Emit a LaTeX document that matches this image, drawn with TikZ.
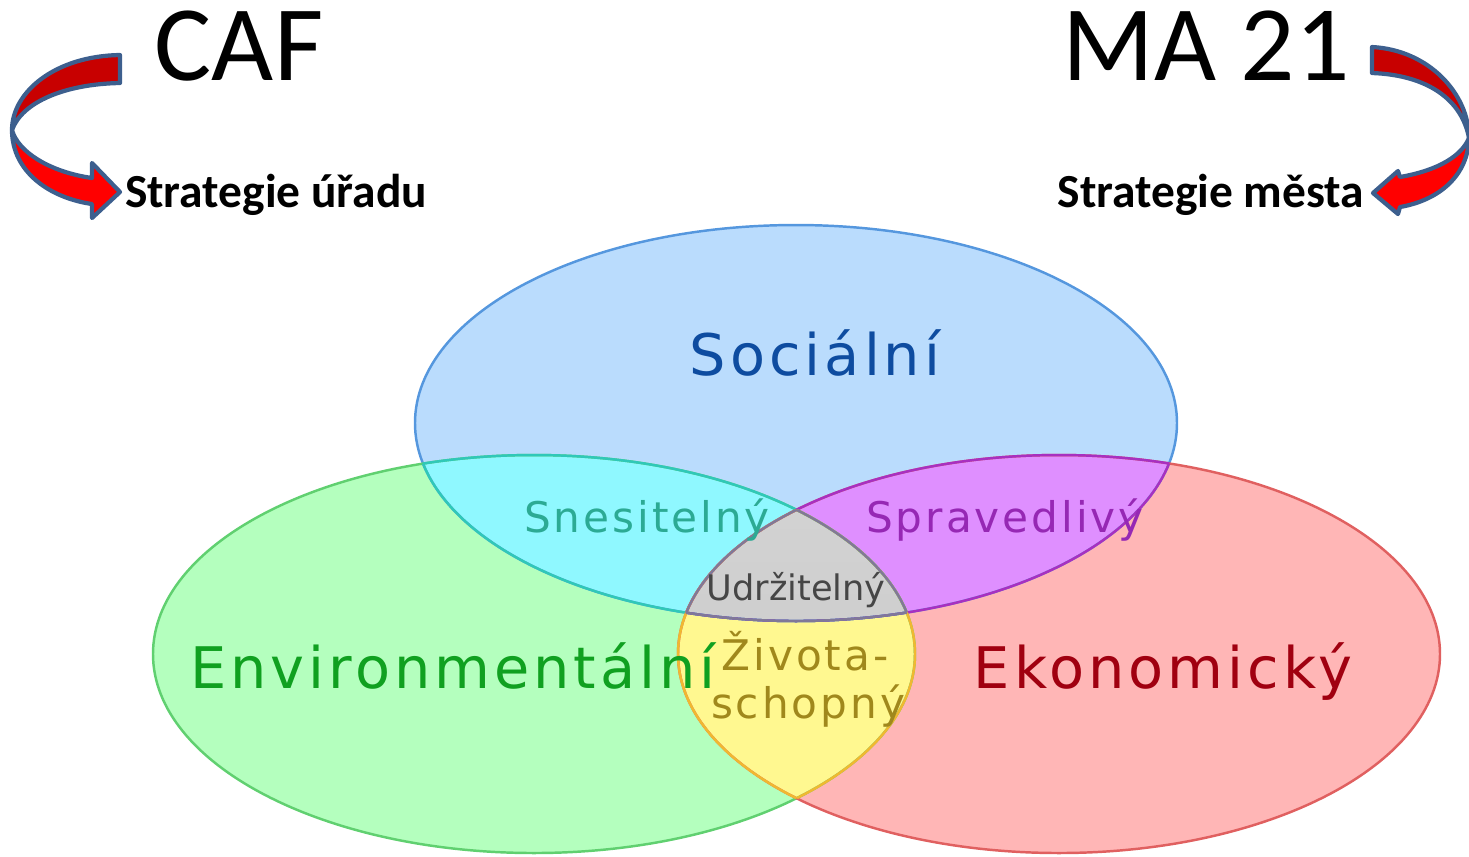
\documentclass[tikz,border=0pt]{standalone}
\usepackage{fontspec}
\usepackage{tikz}
\usepackage{xcolor}
\setmainfont{Carlito}
\newfontfamily\vennfont[LetterSpace=7]{DejaVu Sans}
\newfontfamily\vennfontn{DejaVu Sans}

\definecolor{soc-fill}{HTML}{BADCFD}
\definecolor{soc-line}{HTML}{5597DE}
\definecolor{env-fill}{HTML}{B4FFBE}
\definecolor{env-line}{HTML}{60D070}
\definecolor{eko-fill}{HTML}{FFB6B6}
\definecolor{eko-line}{HTML}{E06060}
\definecolor{snes-fill}{HTML}{8FF8FF}
\definecolor{snes-line}{HTML}{30C8B8}
\definecolor{spr-fill}{HTML}{DF8FFF}
\definecolor{spr-line}{HTML}{A830C0}
\definecolor{ziv-fill}{HTML}{FFF890}
\definecolor{ziv-line}{HTML}{F0B830}
\definecolor{udr-line}{HTML}{807898}
\definecolor{arrow-line}{HTML}{3D5F8E}
\definecolor{arrow-dark}{HTML}{C80000}
\definecolor{arrow-red}{HTML}{FF0000}

\tikzset{
    title-text/.style = {font=\fontsize{30.5}{36}\selectfont, anchor=base},
    strat-text/.style = {font=\bfseries\fontsize{13.5}{16}\selectfont, anchor=base},
    venn-big/.style = {font=\vennfont\fontsize{16.3}{19}\selectfont, anchor=base},
    venn-small/.style = {font=\vennfont\fontsize{12}{14}\selectfont, anchor=base},
    curved-arrow/.style = {draw=arrow-line, line width=1.2pt, line join=round},
    venn-edge/.style = {line width=0.7pt},
}

\def\socpath{(796,423) ellipse [x radius=381, y radius=198]}
\def\envpath{(534,654) ellipse [x radius=381, y radius=199]}
\def\ekopath{(1059,654) ellipse [x radius=381, y radius=199]}

\begin{document}
\begin{tikzpicture}[x=0.01cm, y=-0.01cm]
\useasboundingbox (0,0) rectangle (1469,856);

% the three circles
\fill[soc-fill] \socpath;
\fill[env-fill] \envpath;
\fill[eko-fill] \ekopath;
\begin{scope} \clip \socpath; \fill[snes-fill] \envpath; \fill[spr-fill] \ekopath; \end{scope}
\begin{scope} \clip \envpath; \fill[ziv-fill] \ekopath; \end{scope}
\begin{scope} \clip \socpath; \clip \envpath; \clip \ekopath;
    \shade[top color=gray!35, middle color=gray!4, bottom color=gray!38] (670,500) rectangle (925,625);
\end{scope}

\draw[venn-edge, soc-line] \socpath;
\draw[venn-edge, env-line] \envpath;
\draw[venn-edge, eko-line] \ekopath;
\begin{scope} \clip \socpath; \draw[venn-edge, snes-line] \envpath; \draw[venn-edge, spr-line] \ekopath; \end{scope}
\begin{scope} \clip \envpath; \draw[venn-edge, snes-line] \socpath; \draw[venn-edge, ziv-line] \ekopath; \end{scope}
\begin{scope} \clip \ekopath; \draw[venn-edge, spr-line] \socpath; \draw[venn-edge, ziv-line] \envpath; \end{scope}
\begin{scope} \clip \socpath; \clip \envpath; \draw[venn-edge, udr-line] \ekopath; \end{scope}
\begin{scope} \clip \socpath; \clip \ekopath; \draw[venn-edge, udr-line] \envpath; \end{scope}
\begin{scope} \clip \envpath; \clip \ekopath; \draw[venn-edge, udr-line] \socpath; \end{scope}

\node[venn-big, text={rgb,255:red,14;green,76;blue,160}] (social) at (815,375) {Sociální};
\node[venn-big, text={rgb,255:red,16;green,160;blue,32}] (environ) at (453,688) {Environmentální};
\node[venn-big, text={rgb,255:red,160;green,0;blue,16}] (ekonom) at (1163,688) {Ekonomický};
\node[venn-small, text={rgb,255:red,44;green,170;blue,148}] (snes) at (647,532) {Snesitelný};
\node[venn-small, text={rgb,255:red,150;green,40;blue,180}] (sprav) at (1005,532) {Spravedlivý};
\node[anchor=base, font=\vennfontn\fontsize{10}{12}\selectfont, text={rgb,255:red,70;green,70;blue,70}] (udrz) at (796,600) {Udržitelný};
\node[venn-small, text={rgb,255:red,160;green,136;blue,28}] (zivota) at (805,670) {Života-};
\node[venn-small, text={rgb,255:red,160;green,136;blue,28}] (schopny) at (808,718) {schopný};

% titles
\node[title-text] (caf) at (239,80) {CAF};
\node[title-text] (ma) at (1206,80) {MA 21};
\node[strat-text] (uradu) at (276,207) {Strategie úřadu};
\node[strat-text] (mesta) at (1211,207) {Strategie města};

% curved arrows
\filldraw[curved-arrow, fill=arrow-dark] (120,55) .. controls (55,56) and (12,92) .. (12,130)
    .. controls (22,102) and (65,84) .. (120,83) -- cycle;
\filldraw[curved-arrow, fill=arrow-red] (12,130) .. controls (12,172) and (50,198) .. (92,204)
    -- (92,218) -- (120,192) -- (92,163) -- (92,178) .. controls (50,172) and (18,152) .. (12,130) -- cycle;

\filldraw[curved-arrow, fill=arrow-dark] (1372,47) .. controls (1430,50) and (1469,95) .. (1469,138)
    .. controls (1462,100) and (1428,75) .. (1372,73) -- cycle;
\filldraw[curved-arrow, fill=arrow-red] (1469,138) .. controls (1468,175) and (1440,200) .. (1400,207)
    -- (1398,214) -- (1373,193) -- (1398,171) -- (1400,177) .. controls (1440,170) and (1462,155) .. (1469,138) -- cycle;
\end{tikzpicture}
\end{document}
